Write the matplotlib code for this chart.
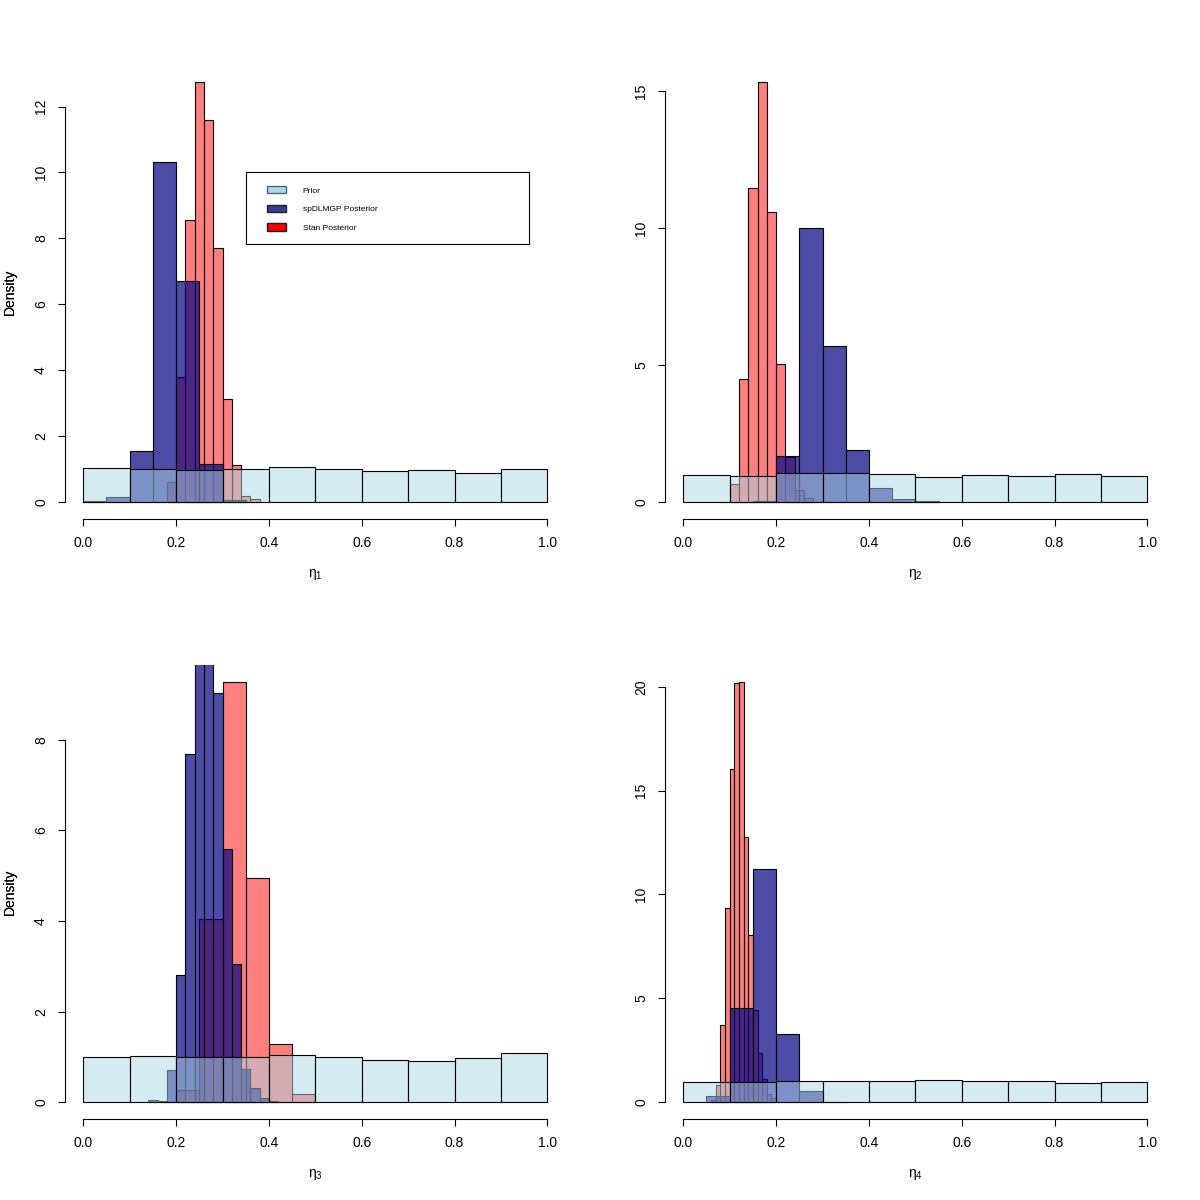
import numpy as np
import matplotlib
matplotlib.use("Agg")
import matplotlib.pyplot as plt
from matplotlib.colors import to_rgba
from matplotlib.patches import Patch, Rectangle

plt.rcParams["font.family"] = ["Liberation Sans", "DejaVu Sans"]
plt.rcParams["mathtext.default"] = "regular"

# prior histograms (breaks 0, 0.1, ..., 1.0)
prior_breaks = [0.0, 0.1, 0.2, 0.3, 0.4, 0.5, 0.6, 0.7, 0.8, 0.9, 1.0]
prior_eta1 = [1.05, 1.02, 0.98, 1.00, 1.08, 1.02, 0.95, 0.98, 0.90, 1.02]
prior_eta2 = [0.99, 0.94, 1.06, 1.06, 1.02, 0.93, 0.99, 0.95, 1.04, 0.95]
prior_eta3 = [1.00, 1.01, 1.00, 1.00, 1.05, 1.00, 0.94, 0.92, 0.98, 1.08]
prior_eta4 = [0.95, 0.99, 1.04, 1.00, 1.01, 1.08, 1.01, 1.01, 0.93, 0.96]

# spDLMGP posterior histograms
sp_breaks_eta1 = [0.0, 0.05, 0.1, 0.15, 0.2, 0.25, 0.3, 0.35]
sp_eta1 = [0.03, 0.17, 1.56, 10.31, 6.70, 1.16, 0.07]
sp_breaks_eta2 = [0.1, 0.15, 0.2, 0.25, 0.3, 0.35, 0.4, 0.45, 0.5, 0.55]
sp_eta2 = [0.02, 0.04, 1.67, 10.00, 5.70, 1.89, 0.50, 0.11, 0.04]
sp_breaks_eta3 = [0.14, 0.16, 0.18, 0.2, 0.22, 0.24, 0.26, 0.28, 0.3, 0.32,
                  0.34, 0.36, 0.38, 0.4, 0.42]
sp_eta3 = [0.05, 0.03, 0.70, 2.80, 7.69, 10.10, 9.80, 9.03, 5.59, 3.06,
           0.74, 0.32, 0.10, 0.02]
sp_breaks_eta4 = [0.05, 0.1, 0.15, 0.2, 0.25, 0.3, 0.35]
sp_eta4 = [0.32, 4.53, 11.24, 3.30, 0.53, 0.03]

# Stan posterior histograms
stan_breaks_eta1 = [0.18, 0.2, 0.22, 0.24, 0.26, 0.28, 0.3, 0.32, 0.34, 0.36, 0.38]
stan_eta1 = [0.60, 3.80, 8.57, 12.75, 11.59, 7.71, 3.14, 1.13, 0.20, 0.09]
stan_breaks_eta2 = [0.08, 0.1, 0.12, 0.14, 0.16, 0.18, 0.2, 0.22, 0.24, 0.26, 0.28]
stan_eta2 = [0.02, 0.67, 4.51, 11.49, 15.35, 10.60, 5.04, 1.65, 0.45, 0.15]
stan_breaks_eta3 = [0.2, 0.25, 0.3, 0.35, 0.4, 0.45, 0.5]
stan_eta3 = [0.28, 4.04, 9.28, 4.95, 1.28, 0.19]
stan_breaks_eta4 = [0.06, 0.07, 0.08, 0.09, 0.1, 0.11, 0.12, 0.13, 0.14, 0.15,
                    0.16, 0.17, 0.18, 0.19, 0.2]
stan_eta4 = [0.10, 0.84, 3.72, 9.33, 16.03, 20.18, 20.24, 12.78, 8.07, 4.45,
             2.35, 1.12, 0.40, 0.20]

xticks = [0.0, 0.2, 0.4, 0.6, 0.8, 1.0]
yticks_eta1 = [0, 2, 4, 6, 8, 10, 12]
yticks_eta2 = [0, 5, 10, 15]
yticks_eta3 = [0, 2, 4, 6, 8]
yticks_eta4 = [0, 5, 10, 15, 20]

panels = [
    (r"$\eta_1$", prior_eta1, sp_breaks_eta1, sp_eta1, stan_breaks_eta1, stan_eta1, yticks_eta1),
    (r"$\eta_2$", prior_eta2, sp_breaks_eta2, sp_eta2, stan_breaks_eta2, stan_eta2, yticks_eta2),
    (r"$\eta_3$", prior_eta3, sp_breaks_eta3, sp_eta3, stan_breaks_eta3, stan_eta3, yticks_eta3),
    (r"$\eta_4$", prior_eta4, sp_breaks_eta4, sp_eta4, stan_breaks_eta4, stan_eta4, yticks_eta4),
]

col_prior = to_rgba("lightblue", 0.5)
col_sp = to_rgba("navy", 0.7)
col_stan = to_rgba("red", 0.5)

fig = plt.figure(figsize=(12, 12), dpi=100)
W = H = 1200.0
boxes = [(64.7, 65), (664.7, 65), (64.7, 665), (664.7, 665)]
pw, ph = 501.3, 454.0


def hbars(ax, breaks, dens, color):
    b = np.array(breaks)
    ax.bar(b[:-1], dens, width=np.diff(b), align="edge", color=color,
           edgecolor="black", linewidth=0.8)


for (left, top), (lab, prior, spb, sp, stb, st, yt) in zip(boxes, panels):
    ax = fig.add_axes([left / W, 1 - (top + ph) / H, pw / W, ph / H])
    hbars(ax, stb, st, col_stan)
    hbars(ax, spb, sp, col_sp)
    hbars(ax, prior_breaks, prior, col_prior)

    m = max(st)
    ax.set_xlim(-0.04, 1.04)
    ax.set_ylim(-0.04 * m, 1.04 * m)
    for s in ["top", "right"]:
        ax.spines[s].set_visible(False)
    ax.spines["bottom"].set_bounds(0, 1)
    ax.spines["left"].set_bounds(yt[0], yt[-1])
    for s in ["bottom", "left"]:
        ax.spines[s].set_linewidth(0.8)
    ax.set_xticks(xticks)
    ax.set_xticklabels(["%.1f" % v for v in xticks])
    ax.set_yticks(yt)
    ax.set_yticklabels([str(v) for v in yt], rotation=90, va="center")
    ax.tick_params(length=5, width=0.8, labelsize=10, pad=7)
    ax.set_xlabel(lab, fontsize=10, va="center")
    ax.xaxis.set_label_coords(0.5, -(575 - 519) / ph)
    ax.set_ylabel("Density", fontsize=10, va="center")
    ax.yaxis.set_label_coords((10 - left) / pw, 0.5)

    if lab == r"$\eta_1$":
        handles = [Patch(facecolor="lightblue", edgecolor="#4a6a72", label="Prior"),
                   Patch(facecolor="#3b3b8f", edgecolor="#222222", label="spDLMGP Posterior"),
                   Patch(facecolor="red", edgecolor="#222222", label="Stan Posterior")]
        # legend box
        ax.add_patch(Rectangle(((246 - left) / pw, 1 - (244 - top) / ph),
                               (529 - 246) / pw, (244 - 172) / ph,
                               transform=ax.transAxes, facecolor="white",
                               edgecolor="black", linewidth=0.8, zorder=4.9))
        leg = ax.legend(handles=handles, loc="upper left",
                        bbox_to_anchor=((267 - left) / pw, 1 - (186 - top) / ph),
                        borderaxespad=0, borderpad=0, frameon=False,
                        fontsize=6.0, handlelength=2.3, handleheight=1.0,
                        handletextpad=2.0, labelspacing=1.2)

fig.savefig("out.png", dpi=100)
